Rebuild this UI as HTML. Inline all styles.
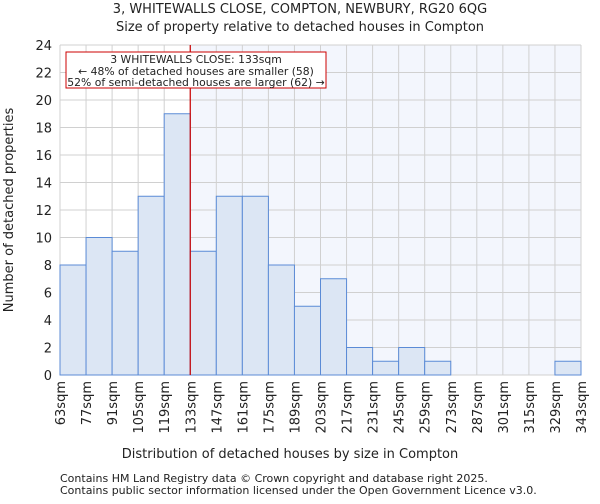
<!DOCTYPE html>
<html><head><meta charset="utf-8"><style>
body{margin:0;background:#fff;font-family:"DejaVu Sans","Liberation Sans",sans-serif}
text{font-family:"DejaVu Sans","Liberation Sans",sans-serif;fill:#222}
</style></head><body>
<svg id="chart" width="600" height="500">
<text x="300" y="13" text-anchor="middle" font-size="13">3, WHITEWALLS CLOSE, COMPTON, NEWBURY, RG20 6QG</text>
<text x="300" y="31" text-anchor="middle" font-size="13">Size of property relative to detached houses in Compton</text>
<g id="plot"></g>
<text x="290" y="458" text-anchor="middle" font-size="13">Distribution of detached houses by size in Compton</text>
<text transform="translate(13,210) rotate(-90)" text-anchor="middle" font-size="13">Number of detached properties</text>
<text x="60" y="482" font-size="11" fill="#444">Contains HM Land Registry data © Crown copyright and database right 2025.</text>
<text x="60" y="494" font-size="11" fill="#444">Contains public sector information licensed under the Open Government Licence v3.0.</text>
</svg>
<script>
const binEdges=[63,77,91,105,119,133,147,161,175,189,203,217,231,245,259,273,287,301,315,329,343];
const counts=[8,10,9,13,19,9,13,13,8,5,7,2,1,2,1,0,0,0,0,1];
const yTicks=[0,2,4,6,8,10,12,14,16,18,20,22,24];
const propertySize=133;
const L=60,R=581,T=45,B=375,yMax=24;
const xs=v=>L+(v-63)/(343-63)*(R-L);
const ys=v=>B-v/yMax*(B-T);
const g=document.getElementById('plot');
const NS='http://www.w3.org/2000/svg';
function mk(t,a){const e=document.createElementNS(NS,t);for(const k in a)e.setAttribute(k,a[k]);g.appendChild(e);return e;}
let e;
e=mk('rect',{x:xs(propertySize),y:T,width:R-xs(propertySize),height:B-T,fill:'#f3f6fd'});


yTicks.forEach(t=>{
 e=mk('line',{x1:L,x2:R,y1:ys(t),y2:ys(t),stroke:'#d0d0d0'});
 
 
 e=mk('text',{x:L-8,y:ys(t)+5,'text-anchor':'end','font-size':13});e.textContent=t;
 
 
});
binEdges.forEach(b=>{
 e=mk('line',{x1:xs(b),x2:xs(b),y1:T,y2:B,stroke:'#d0d0d0'});
 
 
 e=mk('text',{transform:`translate(${xs(b)+5},${B+6}) rotate(-90)`,'text-anchor':'end','font-size':13});e.textContent=b+'sqm';
 
 
});
counts.forEach((c,i)=>{
 if(c<=0)return;
 e=mk('rect',{x:xs(binEdges[i]),y:ys(c),width:xs(binEdges[i+1])-xs(binEdges[i]),height:B-ys(c),fill:'#dce6f4',stroke:'#5b8bd6','stroke-width':1});
 
 
});
e=mk('line',{x1:xs(propertySize),x2:xs(propertySize),y1:T,y2:B,stroke:'#cc0000','stroke-width':1.2});


e=mk('rect',{x:66,y:52,width:260,height:36,fill:'#fff',stroke:'#cc0000'});


[['3 WHITEWALLS CLOSE: 133sqm',63],['← 48% of detached houses are smaller (58)',75],['52% of semi-detached houses are larger (62) →',86]].forEach(([s,y])=>{
 e=mk('text',{x:196,y:y,'text-anchor':'middle','font-size':10.8});e.textContent=s;
 
 
});
</script>
</body></html>
